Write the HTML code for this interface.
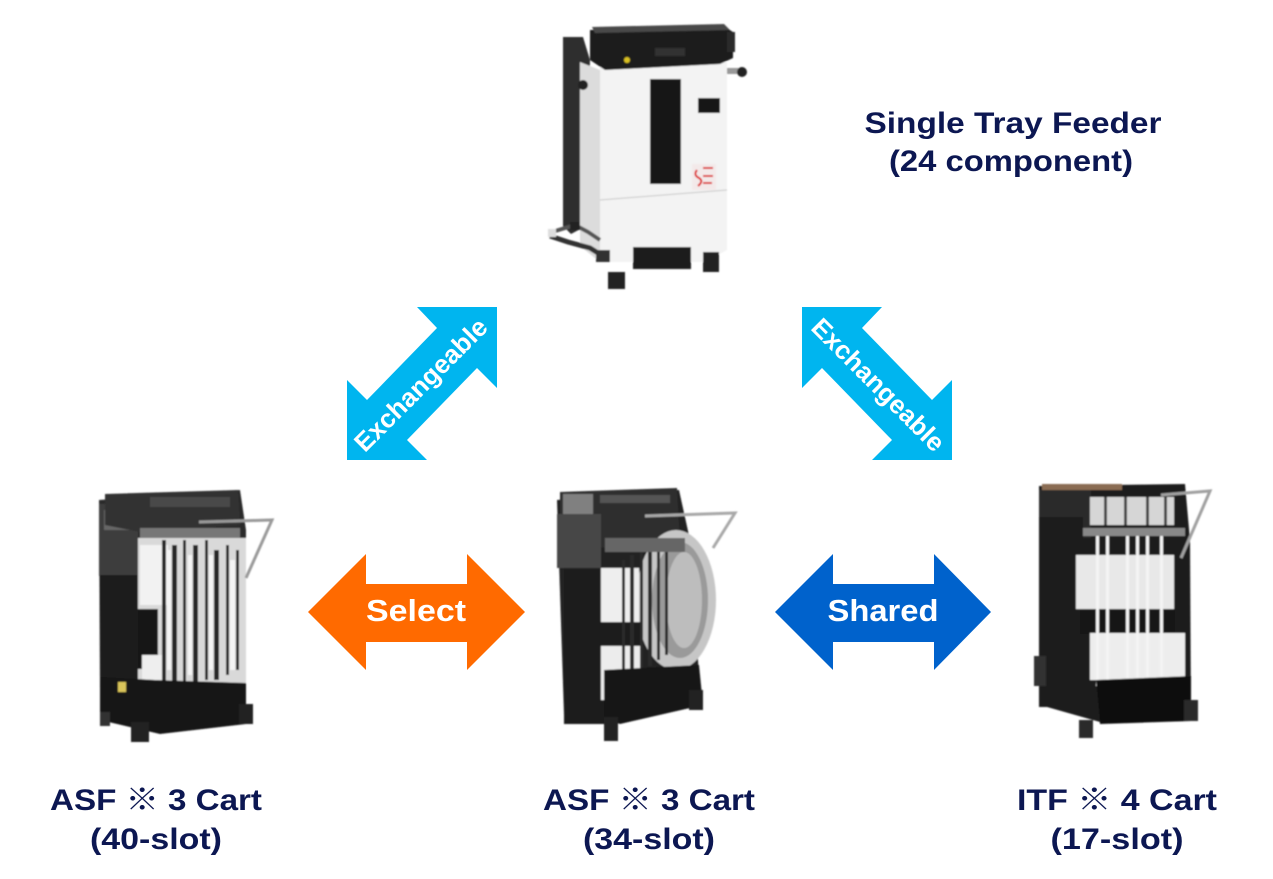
<!DOCTYPE html>
<html>
<head>
<meta charset="utf-8">
<style>
html,body{margin:0;padding:0;background:#fff;}
body{width:1273px;height:879px;overflow:hidden;}
svg{display:block;}
.lbl{font-family:"Liberation Sans","Noto Sans CJK JP",sans-serif;font-weight:bold;fill:#0c1752;font-size:30px;}
.arw{font-family:"Liberation Sans",sans-serif;font-weight:bold;fill:#fff;}
</style>
</head>
<body>
<svg width="1273" height="879" viewBox="0 0 1273 879" xmlns="http://www.w3.org/2000/svg">
<defs>
<filter id="bl" x="-10%" y="-10%" width="120%" height="120%"><feGaussianBlur stdDeviation="0.9"/></filter>
</defs>
<rect width="1273" height="879" fill="#fff"/>

<!-- ===== Top: Single Tray Feeder ===== -->
<g filter="url(#bl)">
  <polygon points="563,37 583,37 590,60 586,226 571,234 563,226" fill="#2f2f2f"/>
  <polygon points="580,62 600,70 600,262 580,246" fill="#dcdcdc"/>
  <polygon points="600,66 727,62 727,250 705,262 600,262" fill="#f3f3f3"/>
  <line x1="600" y1="200" x2="727" y2="190" stroke="#c8c8c8" stroke-width="1"/>
  <polygon points="590,30 725,27 733,32 733,58 720,64 605,70 590,60" fill="#1b1b1b"/>
  <polygon points="592,27 724,24 730,30 595,33" fill="#4a4a4a"/>
  <rect x="655" y="48" width="30" height="8" fill="#333"/>
  <rect x="727" y="32" width="8" height="20" fill="#2a2a2a"/>
  <circle cx="627" cy="60" r="3" fill="#d8c020"/>
  <rect x="650" y="79" width="31" height="105" fill="#121212"/>
  <rect x="698" y="98" width="22" height="15" fill="#151515"/>
  <rect x="727" y="68" width="12" height="6" fill="#999"/>
  <circle cx="742" cy="72" r="5" fill="#222"/>
  <circle cx="583" cy="85" r="5" fill="#222"/>
  <rect x="692" y="164" width="24" height="26" fill="#f3e9e9"/>
  <path d="M697,170 q-4,5 2,8 q5,3 -1,8" stroke="#d22" stroke-width="2" fill="none"/>
  <line x1="703" y1="168" x2="713" y2="168" stroke="#d33" stroke-width="2"/>
  <line x1="703" y1="176" x2="713" y2="176" stroke="#d33" stroke-width="2"/>
  <line x1="703" y1="183" x2="712" y2="183" stroke="#d33" stroke-width="2"/>
  <rect x="633" y="247" width="58" height="22" fill="#1a1a1a"/>
  <rect x="608" y="272" width="17" height="17" fill="#222"/>
  <rect x="703" y="252" width="16" height="20" fill="#222"/>
  <rect x="596" y="250" width="14" height="12" fill="#333"/>
  <path d="M550,236 L568,242 L590,248 L606,258" stroke="#333" stroke-width="5" fill="none"/>
  <path d="M552,232 L575,225 L588,232 L600,240" stroke="#555" stroke-width="4" fill="none"/>
  <rect x="548" y="229" width="8" height="8" fill="#ddd"/>
  <rect x="570" y="222" width="10" height="8" fill="#222"/>
</g>

<!-- ===== Left cart: ASF 40-slot ===== -->
<g filter="url(#bl)">
  <polygon points="99,500 240,490 246,530 246,690 140,700 100,690" fill="#2a2a2a"/>
  <rect x="99" y="504" width="39" height="72" fill="#3c3c3c"/>
  <rect x="104" y="510" width="28" height="20" fill="#666"/>
  <rect x="100" y="575" width="38" height="115" fill="#1c1c1c"/>
  <polygon points="105,494 238,490 240,525 140,532 105,525" fill="#333"/>
  <rect x="150" y="497" width="80" height="10" fill="#4a4a4a"/>
  <rect x="140" y="528" width="100" height="10" fill="#777"/>
  <rect x="138" y="538" width="108" height="145" fill="#d9d9d9"/>
  <rect x="140" y="545" width="28" height="60" fill="#f2f2f2"/>
  <rect x="138" y="609" width="20" height="60" fill="#161616"/>
  <rect x="142" y="655" width="22" height="25" fill="#eee"/>
  <g fill="#262626">
    <rect x="162" y="540" width="4" height="142"/>
    <rect x="172" y="545" width="5" height="138"/>
    <rect x="183" y="540" width="3" height="143"/>
    <rect x="193" y="545" width="5" height="138"/>
    <rect x="205" y="540" width="3" height="140"/>
    <rect x="214" y="550" width="5" height="130"/>
    <rect x="226" y="545" width="3" height="130"/>
    <rect x="236" y="550" width="3" height="120"/>
  </g>
  <g fill="#f4f4f4">
    <rect x="167" y="550" width="4" height="120"/>
    <rect x="188" y="555" width="4" height="120"/>
    <rect x="209" y="555" width="4" height="115"/>
    <rect x="230" y="560" width="5" height="110"/>
  </g>
  <polygon points="100,677 155,680 246,683 246,724 160,734 100,720" fill="#151515"/>
  <rect x="118" y="682" width="8" height="10" fill="#d9c45a"/>
  <rect x="131" y="722" width="18" height="20" fill="#222"/>
  <rect x="239" y="704" width="14" height="20" fill="#222"/>
  <rect x="100" y="712" width="10" height="14" fill="#333"/>
  <polyline points="199,522 272,520 246,578" stroke="#9a9a9a" stroke-width="3" fill="none"/>
</g>

<!-- ===== Center cart: ASF 34-slot ===== -->
<g filter="url(#bl)">
  <polygon points="557,500 679,490 690,540 700,690 610,724 564,715" fill="#222"/>
  <polygon points="560,492 677,488 680,540 605,548 560,538" fill="#2d2d2d"/>
  <rect x="563" y="494" width="30" height="20" fill="#808080"/>
  <rect x="600" y="495" width="70" height="8" fill="#555"/>
  <rect x="557" y="514" width="44" height="54" fill="#474747"/>
  <rect x="564" y="568" width="44" height="156" fill="#1a1a1a"/>
  <ellipse cx="676" cy="600" rx="40" ry="70" fill="#c6c6c6"/>
  <ellipse cx="680" cy="600" rx="28" ry="58" fill="#9a9a9a"/>
  <ellipse cx="684" cy="600" rx="18" ry="48" fill="#bdbdbd"/>
  <rect x="601" y="568" width="38" height="54" fill="#eeeeee"/>
  <rect x="601" y="622" width="40" height="24" fill="#1a1a1a"/>
  <rect x="601" y="646" width="42" height="54" fill="#ececec"/>
  <g fill="#2a2a2a">
    <rect x="622" y="560" width="3" height="110"/>
    <rect x="630" y="555" width="4" height="115"/>
    <rect x="640" y="550" width="3" height="118"/>
    <rect x="648" y="548" width="4" height="118"/>
    <rect x="657" y="545" width="3" height="115"/>
    <rect x="665" y="545" width="3" height="110"/>
  </g>
  <rect x="605" y="538" width="80" height="14" fill="#666"/>
  <polygon points="604,670 699,665 703,705 620,724 604,718" fill="#141414"/>
  <rect x="604" y="717" width="14" height="24" fill="#222"/>
  <rect x="689" y="690" width="14" height="20" fill="#222"/>
  <polyline points="645,516 735,513 713,548" stroke="#a8a8a8" stroke-width="3" fill="none"/>
</g>

<!-- ===== Right cart: ITF 17-slot ===== -->
<g filter="url(#bl)">
  <polygon points="1039,486 1185,484 1190,540 1191,721 1100,722 1040,705" fill="#1e1e1e"/>
  <rect x="1042" y="484" width="80" height="6" fill="#8a6c52"/>
  <rect x="1039" y="490" width="52" height="48" fill="#2c2c2c"/>
  <rect x="1090" y="497" width="84" height="28" fill="#d6d6d6"/>
  <g fill="#444">
    <rect x="1104" y="497" width="3" height="28"/>
    <rect x="1124" y="497" width="3" height="28"/>
    <rect x="1146" y="497" width="3" height="28"/>
    <rect x="1164" y="497" width="3" height="28"/>
  </g>
  <rect x="1080" y="528" width="105" height="8" fill="#888"/>
  <rect x="1039" y="517" width="44" height="190" fill="#1c1c1c"/>
  <rect x="1076" y="555" width="98" height="54" fill="#e8e8e8"/>
  <rect x="1080" y="609" width="95" height="25" fill="#141414"/>
  <rect x="1090" y="633" width="95" height="47" fill="#ededed"/>
  <g fill="#f4f4f4">
    <rect x="1096" y="536" width="3" height="150"/>
    <rect x="1106" y="536" width="3" height="150"/>
    <rect x="1126" y="536" width="3" height="150"/>
    <rect x="1136" y="536" width="3" height="150"/>
    <rect x="1146" y="536" width="3" height="150"/>
    <rect x="1160" y="536" width="3" height="150"/>
  </g>
  <polygon points="1096,680 1191,676 1191,721 1100,724" fill="#111"/>
  <rect x="1034" y="656" width="12" height="30" fill="#333"/>
  <rect x="1079" y="720" width="14" height="18" fill="#2a2a2a"/>
  <rect x="1184" y="700" width="14" height="21" fill="#2a2a2a"/>
  <polyline points="1161,495 1210,491 1181,558" stroke="#a0a0a0" stroke-width="3" fill="none"/>
</g>

<!-- ===== Exchangeable arrows ===== -->
<polygon points="497,307 497,388 477,368 407,440 427,460 347,460 347,380 367,400 437,328 417,307" fill="#00b5ef"/>
<text class="arw" x="420" y="394" font-size="26" text-anchor="middle" textLength="176" lengthAdjust="spacingAndGlyphs" transform="rotate(-45 420 384)">Exchangeable</text>

<polygon points="802,307 802,388 822,368 892,440 872,460 952,460 952,380 932,400 862,328 882,307" fill="#00b5ef"/>
<text class="arw" x="879" y="394" font-size="26" text-anchor="middle" textLength="176" lengthAdjust="spacingAndGlyphs" transform="rotate(45 879 384)">Exchangeable</text>

<!-- ===== Select arrow ===== -->
<polygon points="308,612 366,554 366,584 467,584 467,554 525,612 467,670 467,642 366,642 366,670" fill="#ff6a00"/>
<text class="arw" x="416" y="621" font-size="31" text-anchor="middle" textLength="100" lengthAdjust="spacingAndGlyphs">Select</text>

<!-- ===== Shared arrow ===== -->
<polygon points="775,612 833,554 833,584 934,584 934,554 991,612 934,670 934,642 833,642 833,670" fill="#0062cc"/>
<text class="arw" x="883" y="621" font-size="31" text-anchor="middle" textLength="111" lengthAdjust="spacingAndGlyphs">Shared</text>

<!-- ===== Labels ===== -->
<text class="lbl" x="1013" y="133" text-anchor="middle" textLength="297" lengthAdjust="spacingAndGlyphs">Single Tray Feeder</text>
<text class="lbl" x="1011" y="171" text-anchor="middle" textLength="244" lengthAdjust="spacingAndGlyphs">(24 component)</text>

<text class="lbl" x="156" y="810" text-anchor="middle" textLength="212" lengthAdjust="spacingAndGlyphs">ASF ※ 3 Cart</text>
<text class="lbl" x="156" y="849" text-anchor="middle" textLength="132" lengthAdjust="spacingAndGlyphs">(40-slot)</text>

<text class="lbl" x="649" y="810" text-anchor="middle" textLength="212" lengthAdjust="spacingAndGlyphs">ASF ※ 3 Cart</text>
<text class="lbl" x="649" y="849" text-anchor="middle" textLength="132" lengthAdjust="spacingAndGlyphs">(34-slot)</text>

<text class="lbl" x="1117" y="810" text-anchor="middle" textLength="200" lengthAdjust="spacingAndGlyphs">ITF ※ 4 Cart</text>
<text class="lbl" x="1117" y="849" text-anchor="middle" textLength="133" lengthAdjust="spacingAndGlyphs">(17-slot)</text>
</svg>
</body>
</html>
